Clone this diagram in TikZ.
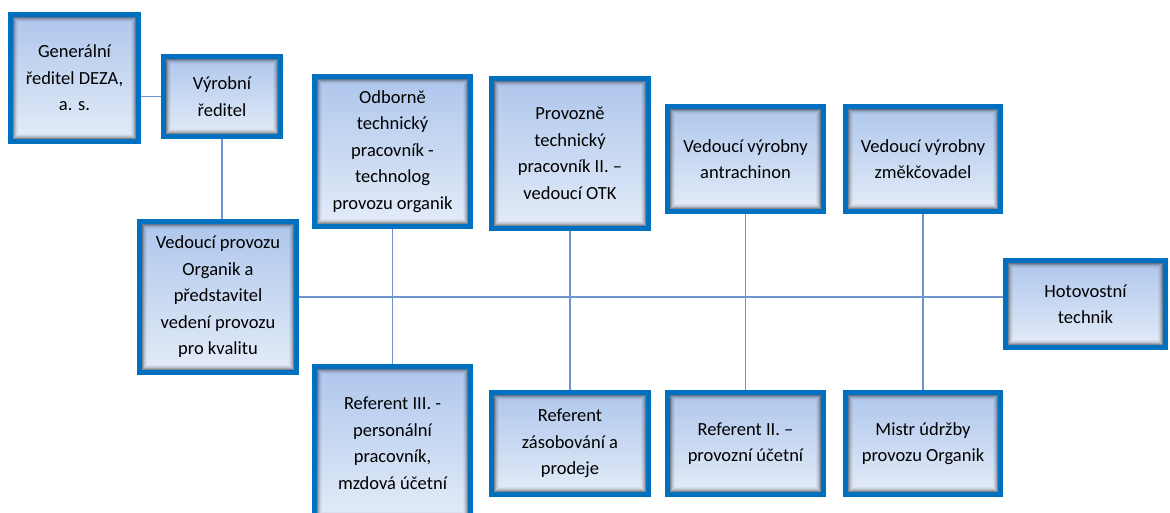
\documentclass[tikz,border=0pt]{standalone}
\usepackage{fontspec}
\setmainfont{Carlito}
\definecolor{boxblue}{RGB}{0,112,192}
\definecolor{filltop}{RGB}{174,198,236}
\definecolor{fillbot}{RGB}{228,236,248}
\definecolor{linkblue}{RGB}{112,148,206}
\tikzset{
  unit/.style={draw=boxblue, line width=5pt, top color=filltop, bottom color=fillbot,
    align=center, text=black, inner sep=2pt,
    font=\fontsize{18.5}{26.5}\selectfont,
    path picture={
      \foreach \d/\o in {3/0.42,4/0.28,5/0.17,6/0.09,7/0.04}
        \draw[black, opacity=\o, line width=1pt]
          ([shift={(\d pt,-\d pt)}]path picture bounding box.north west) rectangle
          ([shift={(-\d pt,\d pt)}]path picture bounding box.south east);
    }},
  link/.style={draw=linkblue, line width=1.4pt},
}
\begin{document}
\begin{tikzpicture}[x=1pt, y=-1pt]
				\useasboundingbox[fill=white] (0,0) rectangle (1170,513);
				% top row
				\node[unit, minimum width=128, minimum height=127] (gen) at (74.5,78) {Generální\\ředitel DEZA,\\a. s.};
				\node[unit, minimum width=117, minimum height=80] (vyr) at (222,96.5) {Výrobní\\ředitel};
				\node[unit, minimum width=156, minimum height=150] (odb) at (392.5,151.5) {Odborně\\technický\\pracovník -\\technolog\\provozu organik};
				\node[unit, minimum width=157, minimum height=150] (pro) at (570,153.5) {Provozně\\technický\\pracovník II. --\\vedoucí OTK};
				\node[unit, minimum width=156, minimum height=105] (ant) at (745.5,159) {Vedoucí výrobny\\antrachinon};
				\node[unit, minimum width=155, minimum height=105] (zme) at (923,159) {Vedoucí výrobny\\změkčovadel};
				% middle row
				\node[unit, minimum width=157, minimum height=151] (ved) at (218,297) {Vedoucí provozu\\Organik a\\představitel\\vedení provozu\\pro kvalitu};
				\node[unit, minimum width=160, minimum height=87] (hot) at (1085.5,304) {Hotovostní\\technik};
				% bottom row
				\node[unit, minimum width=156, minimum height=153] (ref3) at (392.5,443) {Referent III. -\\personální\\pracovník,\\mzdová účetní};
				\node[unit, minimum width=157, minimum height=102] (refz) at (570,443.5) {Referent\\zásobování a\\prodeje};
				\node[unit, minimum width=156, minimum height=102] (ref2) at (745.5,443.5) {Referent II. --\\provozní účetní};
				\node[unit, minimum width=155, minimum height=102] (mis) at (923,443.5) {Mistr údržby\\provozu Organik};
				% connectors
				\draw[link] (vyr.west) -- (vyr.west -| gen.east);
				\draw[link] (vyr.south) -- (vyr.south |- ved.north);
				\draw[link] (ved.east) -- (ved.east -| hot.west);
				\draw[link] (odb.south) -- (ref3.north);
				\draw[link] (pro.south) -- (refz.north);
				\draw[link] (ant.south) -- (ref2.north);
				\draw[link] (zme.south) -- (mis.north);
			\end{tikzpicture}
\end{document}
